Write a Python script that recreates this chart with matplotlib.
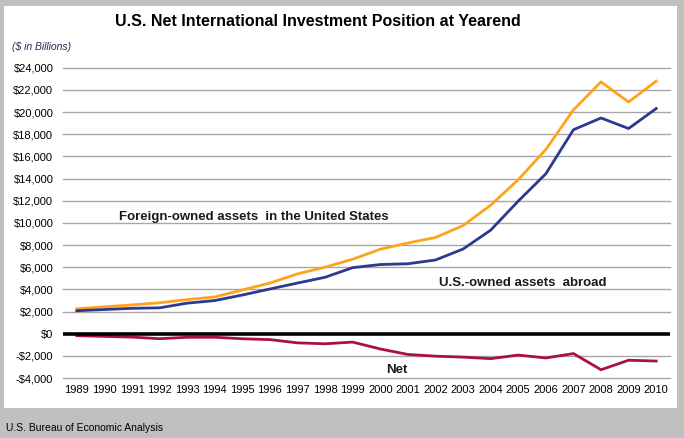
import numpy as np
import matplotlib
matplotlib.use("Agg")
import matplotlib.pyplot as plt
from matplotlib import font_manager

# Datos (miles de millones de dólares)
years = list(range(1989, 2011))
foreign_owned = [2249, 2424, 2595, 2786, 3080, 3310, 3945, 4568, 5398, 6002, 6719,
                 7620, 8183, 8679, 9753, 11593, 13894, 16620, 20196, 22718, 20907, 22787]
us_owned = [2070, 2179, 2286, 2331, 2754, 2987, 3486, 4032, 4568, 5091, 5959,
            6239, 6309, 6649, 7638, 9340, 11962, 14428, 18400, 19464, 18512, 20315]
net = [-179, -245, -309, -455, -326, -323, -459, -536, -830, -911, -760,
       -1381, -1874, -2030, -2115, -2253, -1932, -2192, -1796, -3254, -2396, -2471]
yticks = list(range(-4000, 24001, 2000))

# fuente estrecha si existe
nombres = {f.name for f in font_manager.fontManager.ttflist}
fuente = 'Liberation Sans Narrow' if 'Liberation Sans Narrow' in nombres else 'Liberation Sans'
plt.rcParams['font.family'] = [fuente, 'DejaVu Sans']

W, H = 684, 438
fig = plt.figure(figsize=(W / 100, H / 100), dpi=100, facecolor='#C0C0C0')

def px(x, y):
    return x / W, 1 - y / H

# panel blanco
fondo = fig.add_axes([4 / W, 1 - 408 / H, 673 / W, 402 / H], zorder=-1)
fondo.set_facecolor('white')
fondo.set_xticks([])
fondo.set_yticks([])
for s in fondo.spines.values():
    s.set_visible(False)

ax = fig.add_axes([63 / W, 1 - 378 / H, 607 / W, 310.3 / H])
ax.set_facecolor('none')
x = np.arange(len(years))

for v in yticks:
    if v != 0:
        ax.axhline(v, color='#A6A6A6', lw=1, zorder=1, clip_on=False)
ax.axhline(0, color='black', lw=2.6, zorder=4)

ax.plot(x, foreign_owned, color='#FFA31A', lw=2, zorder=3)
ax.plot(x, us_owned, color='#2B3990', lw=2, zorder=3)
ax.plot(x, net, color='#A8123C', lw=2, zorder=3)

ax.set_xlim(-0.5, len(years) - 0.5)
ax.set_ylim(-4000, 24000)
ax.set_xticks(x)
ax.set_xticklabels([str(y) for y in years], fontsize=8)
ax.set_yticks(yticks)
ax.set_yticklabels([f"${v:,}" if v >= 0 else f"-${-v:,}" for v in yticks], fontsize=8)
ax.tick_params(length=0, pad=7)
ax.tick_params(axis='x', pad=5)
for s in ax.spines.values():
    s.set_visible(False)

# etiquetas de series
ax.text(1.53, 10570, 'Foreign-owned assets  in the United States', fontsize=9.5,
        fontweight='bold', va='center', ha='left', color='#1A1A1A')
ax.text(13.13, 4610, 'U.S.-owned assets  abroad', fontsize=9.5,
        fontweight='bold', va='center', ha='left', color='#1A1A1A')
ax.text(11.6, -3250, 'Net', fontsize=9.5, fontweight='bold', va='center',
        ha='center', color='#1A1A1A')

tx, ty = px(318, 21)
fig.text(tx, ty, 'U.S. Net International Investment Position at Yearend',
         fontsize=11.5, fontweight='bold', ha='center', va='center')
tx, ty = px(12, 47)
fig.text(tx, ty, '($ in Billions)', fontsize=7.5, style='italic', ha='left', va='center',
         color='#1F2A55')
tx, ty = px(6, 428)
fig.text(tx, ty, 'U.S. Bureau of Economic Analysis', fontsize=7.5, ha='left', va='center')

fig.savefig('out.png', dpi=100, facecolor=fig.get_facecolor())
